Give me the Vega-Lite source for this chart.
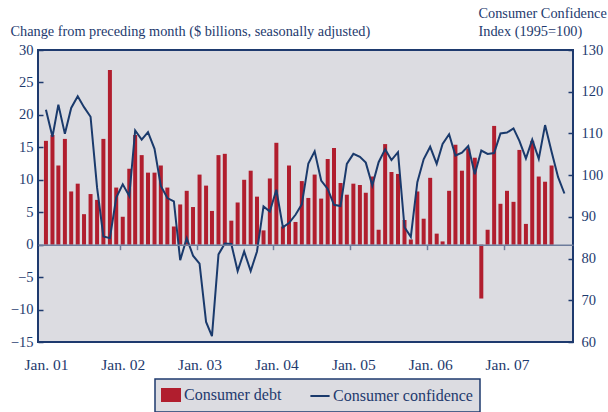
{
  "$schema": "https://vega.github.io/schema/vega-lite/v6.json",
  "width": 535,
  "height": 292,
  "autosize": {"type": "none"},
  "padding": {"left": 38, "top": 50, "right": 35, "bottom": 70},
  "background": "#ffffff",
  "config": {
    "view": {"fill": "#DCDCE1", "stroke": "#1E3A6E", "strokeWidth": 2},
    "axis": {
      "grid": false,
      "domain": false,
      "labelFont": "Liberation Serif",
      "titleFont": "Liberation Serif",
      "labelColor": "#1E3A6E",
      "titleColor": "#1E3A6E",
      "labelFontSize": 14.5,
      "titleFontSize": 14.3,
      "titleFontWeight": "normal",
      "tickColor": "#1E3A6E",
      "tickWidth": 1.5
    }
  },
  "datasets": {
    "debt": [
      {"date": "2001-01-15", "debt": 16.0}, {"date": "2001-02-15", "debt": 16.9}, {"date": "2001-03-15", "debt": 12.2}, {"date": "2001-04-15", "debt": 16.3},
      {"date": "2001-05-15", "debt": 8.2}, {"date": "2001-06-15", "debt": 9.4}, {"date": "2001-07-15", "debt": 4.7}, {"date": "2001-08-15", "debt": 7.8},
      {"date": "2001-09-15", "debt": 6.9}, {"date": "2001-10-15", "debt": 16.3}, {"date": "2001-11-15", "debt": 26.9}, {"date": "2001-12-15", "debt": 8.8},
      {"date": "2002-01-15", "debt": 4.3}, {"date": "2002-02-15", "debt": 11.7}, {"date": "2002-03-15", "debt": 16.9}, {"date": "2002-04-15", "debt": 13.8},
      {"date": "2002-05-15", "debt": 11.1}, {"date": "2002-06-15", "debt": 11.1}, {"date": "2002-07-15", "debt": 12.2}, {"date": "2002-08-15", "debt": 8.8},
      {"date": "2002-09-15", "debt": 2.8}, {"date": "2002-10-15", "debt": 6.2}, {"date": "2002-11-15", "debt": 8.3}, {"date": "2002-12-15", "debt": 5.8},
      {"date": "2003-01-15", "debt": 10.8}, {"date": "2003-02-15", "debt": 9.1}, {"date": "2003-03-15", "debt": 5.2}, {"date": "2003-04-15", "debt": 13.8},
      {"date": "2003-05-15", "debt": 14.0}, {"date": "2003-06-15", "debt": 3.7}, {"date": "2003-07-15", "debt": 6.5}, {"date": "2003-08-15", "debt": 10.0},
      {"date": "2003-09-15", "debt": 11.4}, {"date": "2003-10-15", "debt": 7.4}, {"date": "2003-11-15", "debt": 2.2}, {"date": "2003-12-15", "debt": 10.2},
      {"date": "2004-01-15", "debt": 15.7}, {"date": "2004-02-15", "debt": 2.8}, {"date": "2004-03-15", "debt": 12.2}, {"date": "2004-04-15", "debt": 3.5},
      {"date": "2004-05-15", "debt": 9.8}, {"date": "2004-06-15", "debt": 7.2}, {"date": "2004-07-15", "debt": 10.8}, {"date": "2004-08-15", "debt": 7.1},
      {"date": "2004-09-15", "debt": 13.2}, {"date": "2004-10-15", "debt": 14.9}, {"date": "2004-11-15", "debt": 9.5}, {"date": "2004-12-15", "debt": 7.7},
      {"date": "2005-01-15", "debt": 9.4}, {"date": "2005-02-15", "debt": 9.2}, {"date": "2005-03-15", "debt": 8.0}, {"date": "2005-04-15", "debt": 10.5},
      {"date": "2005-05-15", "debt": 2.3}, {"date": "2005-06-15", "debt": 15.5}, {"date": "2005-07-15", "debt": 11.2}, {"date": "2005-08-15", "debt": 10.9},
      {"date": "2005-09-15", "debt": 3.8}, {"date": "2005-10-15", "debt": 0.8}, {"date": "2005-11-15", "debt": 8.2}, {"date": "2005-12-15", "debt": 4.0},
      {"date": "2006-01-15", "debt": 10.3}, {"date": "2006-02-15", "debt": 1.7}, {"date": "2006-03-15", "debt": 0.5}, {"date": "2006-04-15", "debt": 8.3},
      {"date": "2006-05-15", "debt": 15.4}, {"date": "2006-06-15", "debt": 11.4}, {"date": "2006-07-15", "debt": 14.8}, {"date": "2006-08-15", "debt": 13.4},
      {"date": "2006-09-15", "debt": -8.3}, {"date": "2006-10-15", "debt": 2.3}, {"date": "2006-11-15", "debt": 18.3}, {"date": "2006-12-15", "debt": 6.3},
      {"date": "2007-01-15", "debt": 8.3}, {"date": "2007-02-15", "debt": 6.6}, {"date": "2007-03-15", "debt": 14.6}, {"date": "2007-04-15", "debt": 3.2},
      {"date": "2007-05-15", "debt": 16.0}, {"date": "2007-06-15", "debt": 10.5}, {"date": "2007-07-15", "debt": 9.7}, {"date": "2007-08-15", "debt": 12.2}
    ],
    "conf": [
      {"date": "2001-01-15", "conf": 115.7}, {"date": "2001-02-15", "conf": 109.2}, {"date": "2001-03-15", "conf": 116.9}, {"date": "2001-04-15", "conf": 109.9},
      {"date": "2001-05-15", "conf": 116.1}, {"date": "2001-06-15", "conf": 118.9}, {"date": "2001-07-15", "conf": 116.3}, {"date": "2001-08-15", "conf": 114.0},
      {"date": "2001-09-15", "conf": 97.0}, {"date": "2001-10-15", "conf": 85.3}, {"date": "2001-11-15", "conf": 84.9}, {"date": "2001-12-15", "conf": 94.6},
      {"date": "2002-01-15", "conf": 97.8}, {"date": "2002-02-15", "conf": 95.0}, {"date": "2002-03-15", "conf": 110.7}, {"date": "2002-04-15", "conf": 108.5},
      {"date": "2002-05-15", "conf": 110.3}, {"date": "2002-06-15", "conf": 106.3}, {"date": "2002-07-15", "conf": 97.4}, {"date": "2002-08-15", "conf": 94.5},
      {"date": "2002-09-15", "conf": 93.7}, {"date": "2002-10-15", "conf": 79.6}, {"date": "2002-11-15", "conf": 84.9}, {"date": "2002-12-15", "conf": 80.7},
      {"date": "2003-01-15", "conf": 78.8}, {"date": "2003-02-15", "conf": 64.8}, {"date": "2003-03-15", "conf": 61.4}, {"date": "2003-04-15", "conf": 81.0},
      {"date": "2003-05-15", "conf": 83.6}, {"date": "2003-06-15", "conf": 83.5}, {"date": "2003-07-15", "conf": 77.0}, {"date": "2003-08-15", "conf": 81.7},
      {"date": "2003-09-15", "conf": 77.0}, {"date": "2003-10-15", "conf": 81.7}, {"date": "2003-11-15", "conf": 92.5}, {"date": "2003-12-15", "conf": 91.3},
      {"date": "2004-01-15", "conf": 96.5}, {"date": "2004-02-15", "conf": 87.5}, {"date": "2004-03-15", "conf": 88.5}, {"date": "2004-04-15", "conf": 90.5},
      {"date": "2004-05-15", "conf": 93.0}, {"date": "2004-06-15", "conf": 102.8}, {"date": "2004-07-15", "conf": 105.7}, {"date": "2004-08-15", "conf": 98.7},
      {"date": "2004-09-15", "conf": 96.7}, {"date": "2004-10-15", "conf": 92.9}, {"date": "2004-11-15", "conf": 92.6}, {"date": "2004-12-15", "conf": 102.7},
      {"date": "2005-01-15", "conf": 105.1}, {"date": "2005-02-15", "conf": 104.4}, {"date": "2005-03-15", "conf": 103.0}, {"date": "2005-04-15", "conf": 97.5},
      {"date": "2005-05-15", "conf": 103.1}, {"date": "2005-06-15", "conf": 106.2}, {"date": "2005-07-15", "conf": 103.6}, {"date": "2005-08-15", "conf": 105.5},
      {"date": "2005-09-15", "conf": 87.5}, {"date": "2005-10-15", "conf": 85.2}, {"date": "2005-11-15", "conf": 98.3}, {"date": "2005-12-15", "conf": 103.8},
      {"date": "2006-01-15", "conf": 106.8}, {"date": "2006-02-15", "conf": 102.7}, {"date": "2006-03-15", "conf": 107.5}, {"date": "2006-04-15", "conf": 109.8},
      {"date": "2006-05-15", "conf": 104.7}, {"date": "2006-06-15", "conf": 105.4}, {"date": "2006-07-15", "conf": 107.0}, {"date": "2006-08-15", "conf": 100.2},
      {"date": "2006-09-15", "conf": 105.9}, {"date": "2006-10-15", "conf": 105.1}, {"date": "2006-11-15", "conf": 105.3}, {"date": "2006-12-15", "conf": 110.0},
      {"date": "2007-01-15", "conf": 110.2}, {"date": "2007-02-15", "conf": 111.2}, {"date": "2007-03-15", "conf": 108.2}, {"date": "2007-04-15", "conf": 104.0},
      {"date": "2007-05-15", "conf": 108.5}, {"date": "2007-06-15", "conf": 103.9}, {"date": "2007-07-15", "conf": 112.0}, {"date": "2007-08-15", "conf": 105.6},
      {"date": "2007-09-15", "conf": 99.5}, {"date": "2007-10-15", "conf": 95.6}
    ]
  },
  "layer": [
    {
      "data": {"name": "debt"},
      "mark": {"type": "bar", "width": 4},
      "encoding": {
        "x": {
          "field": "date",
          "type": "temporal",
          "title": null,
          "scale": {"domain": [{"year": 2001, "month": 1, "date": 1}, {"year": 2007, "month": 11, "date": 1}]},
          "axis": {
            "orient": "bottom",
            "values": [
              {"year": 2001, "month": 1, "date": 15}, {"year": 2002, "month": 1, "date": 15}, {"year": 2003, "month": 1, "date": 15},
              {"year": 2004, "month": 1, "date": 15}, {"year": 2005, "month": 1, "date": 15}, {"year": 2006, "month": 1, "date": 15},
              {"year": 2007, "month": 1, "date": 15}
            ],
            "labelExpr": "'Jan. ' + timeFormat(datum.value, '%y')",
            "ticks": false,
            "domain": false,
            "labelPadding": 15,
            "labelFontSize": 15.5,
            "labelFlush": false,
            "labelOverlap": false
          }
        },
        "y": {
          "field": "debt",
          "type": "quantitative",
          "scale": {"domain": [-15, 30], "nice": false, "zero": false},
          "axis": {
            "orient": "left",
            "values": [-15, -10, -5, 0, 5, 10, 15, 20, 25, 30],
            "tickSize": -5,
            "labelPadding": 10,
            "title": "Change from preceding month ($ billions, seasonally adjusted)",
            "titleAngle": 0,
            "titleAlign": "left",
            "titleBaseline": "alphabetic",
            "titleX": -28,
            "titleY": -15
          }
        },
        "color": {
          "datum": "Consumer debt",
          "type": "nominal",
          "scale": {"domain": ["Consumer debt", "Consumer confidence"], "range": ["#B11E2E", "#1A3A6C"]},
          "legend": {
            "title": null,
            "orient": "none",
            "legendX": 117,
            "legendY": 329,
            "direction": "horizontal",
            "labelFont": "Liberation Serif",
            "labelFontSize": 16,
            "labelColor": "#1E3A6E",
            "fillColor": "#DCDCE1",
            "strokeColor": "#1E3A6E",
            "padding": 7,
            "columnPadding": 24,
            "symbolSize": 256,
            "labelOffset": 4,
            "encode": {
              "legend": {"update": {"strokeWidth": {"value": 1.5}}},
              "symbols": {
                "update": {
                  "shape": {"signal": "datum.label === 'Consumer debt' ? 'M-1.125,-0.75H1.125V0.75H-1.125Z' : 'M-1.2,0H1.2'"},
                  "fill": {"signal": "datum.label === 'Consumer debt' ? '#B11E2E' : 'transparent'"},
                  "stroke": {"signal": "datum.label === 'Consumer debt' ? 'transparent' : '#1A3A6C'"},
                  "strokeWidth": {"value": 2},
                  "opacity": {"value": 1},
                  "size": {"value": 256}
                }
              }
            }
          }
        }
      }
    },
    {
      "data": {"name": "conf"},
      "mark": {"type": "line", "strokeWidth": 2},
      "encoding": {
        "x": {
          "field": "date",
          "type": "temporal",
          "title": null,
          "axis": {
            "orient": "bottom",
            "offset": -97.33,
            "values": [
              {"year": 2002, "month": 1, "date": 1}, {"year": 2003, "month": 1, "date": 1}, {"year": 2004, "month": 1, "date": 1},
              {"year": 2005, "month": 1, "date": 1}, {"year": 2006, "month": 1, "date": 1}, {"year": 2007, "month": 1, "date": 1}
            ],
            "labels": false,
            "domain": true,
            "domainColor": "#6D7C9C",
            "domainWidth": 1.5,
            "tickColor": "#6D7C9C",
            "tickSize": 5,
            "tickWidth": 1.5,
            "zindex": 1
          }
        },
        "y": {
          "field": "conf",
          "type": "quantitative",
          "scale": {"domain": [60, 130], "nice": false, "zero": false},
          "axis": {
            "orient": "right",
            "values": [60, 70, 80, 90, 100, 110, 120, 130],
            "tickSize": -5,
            "labelPadding": 13,
            "title": ["Consumer Confidence", "Index (1995=100)"],
            "titleAngle": 0,
            "titleAlign": "left",
            "titleBaseline": "alphabetic",
            "titleX": -95,
            "titleY": -33,
            "titleLineHeight": 18
          }
        },
        "color": {"datum": "Consumer confidence", "type": "nominal"}
      }
    }
  ],
  "resolve": {"scale": {"y": "independent"}, "axis": {"x": "independent", "y": "independent"}}
}
